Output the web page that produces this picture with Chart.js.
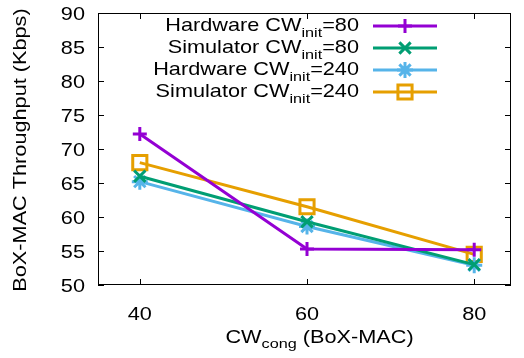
<!DOCTYPE html>
<html>
<head>
<meta charset="utf-8">
<script src="https://cdn.jsdelivr.net/npm/chart.js@4.4.1/dist/chart.umd.min.js"></script>
<style>
  html, body { margin: 0; padding: 0; background: #fff; }
  #wrap { width: 524px; height: 358px; }
</style>
</head>
<body>
<div id="wrap"><canvas id="chart" width="524" height="358"></canvas></div>
<script>
// data
const cwCong = [40, 60, 80];
const yTicks = [50, 55, 60, 65, 70, 75, 80, 85, 90];
const hw80 = [72.2, 55.3, 55.2];
const sim80 = [66.0, 59.3, 53.0];
const hw240 = [65.2, 58.6, 52.9];
const sim240 = [68.0, 61.5, 54.5];

const seriesNames = ['Hardware', 'Simulator', 'Hardware', 'Simulator'];
const seriesInit = ['80', '80', '240', '240'];

const FONT = '"Liberation Sans", Arial, sans-serif';
const STRETCH = 1.22;   // the original font is wider than Liberation Sans

function pts(vals) {
    return vals.map((v, i) => ({ x: cwCong[i], y: v }));
}

const styles = [
    { color: '#9400d3', point: 'cross', r: 7 },
    { color: '#009e73', point: 'crossRot', r: 8 },
    { color: '#56b4e9', point: 'star', r: 8 },
    { color: '#e69f00', point: 'rect', r: 10 }
];
const allValues = [hw80, sim80, hw240, sim240];

const datasets = allValues.map((vals, i) => ({
    label: seriesNames[i] + ' CWinit=' + seriesInit[i],
    data: pts(vals),
    borderColor: styles[i].color,
    backgroundColor: 'rgba(0,0,0,0)',
    borderWidth: 3,
    pointStyle: styles[i].point,
    pointRadius: styles[i].r,
    pointBorderWidth: 3,
    pointBorderColor: styles[i].color,
    pointBackgroundColor: 'rgba(0,0,0,0)',
    tension: 0
}));

// draw runs of [text, size, dy] starting at x, stretched horizontally
function runWidth(ctx, parts) {
    let w = 0;
    parts.forEach(p => { ctx.font = p[1] + 'px ' + FONT; w += ctx.measureText(p[0]).width * STRETCH; });
    return w;
}
function drawRuns(ctx, parts, x, y) {
    parts.forEach(p => {
        ctx.font = p[1] + 'px ' + FONT;
        ctx.save();
        ctx.translate(x, y + p[2]);
        ctx.scale(STRETCH, 1);
        ctx.textAlign = 'left';
        ctx.textBaseline = 'alphabetic';
        ctx.fillText(p[0], 0, 0);
        ctx.restore();
        x += ctx.measureText(p[0]).width * STRETCH;
    });
}

// gnuplot-like frame, inward ticks, labels, legend and titles with subscripts
const frame = {
    id: 'frame',
    afterDraw(chart) {
        const ctx = chart.ctx;
        const a = chart.chartArea;
        const xs = chart.scales.x, ys = chart.scales.y;
        ctx.save();
        ctx.strokeStyle = '#000';
        ctx.lineWidth = 1;
        ctx.strokeRect(a.left + 0.5, a.top + 0.5, a.right - a.left - 1, a.bottom - a.top - 1);
        ctx.beginPath();
        cwCong.forEach(v => {
            const px = Math.round(xs.getPixelForValue(v)) + 0.5;
            ctx.moveTo(px, a.bottom); ctx.lineTo(px, a.bottom - 6);
            ctx.moveTo(px, a.top); ctx.lineTo(px, a.top + 6);
        });
        yTicks.forEach(v => {
            const py = Math.round(ys.getPixelForValue(v)) + 0.5;
            ctx.moveTo(a.left, py); ctx.lineTo(a.left + 6, py);
            ctx.moveTo(a.right, py); ctx.lineTo(a.right - 6, py);
        });
        ctx.stroke();

        ctx.fillStyle = '#000';
        // tick labels
        cwCong.forEach(v => {
            const parts = [[String(v), 17.8, 0]];
            const w = runWidth(ctx, parts);
            drawRuns(ctx, parts, xs.getPixelForValue(v) - w / 2, 320);
        });
        yTicks.forEach(v => {
            const parts = [[String(v), 17.8, 0]];
            const w = runWidth(ctx, parts);
            drawRuns(ctx, parts, 85 - w, ys.getPixelForValue(v) + 7);
        });

        // legend
        datasets.forEach((ds, i) => {
            const cy = 26 + i * 22;
            const parts = [[seriesNames[i] + ' CW', 17.8, 0], ['init', 13.3, 6], ['=' + seriesInit[i], 17.8, 0]];
            const w = runWidth(ctx, parts);
            ctx.fillStyle = '#000';
            drawRuns(ctx, parts, 359 - w, cy + 5);
            ctx.strokeStyle = ds.borderColor;
            ctx.lineWidth = 3;
            ctx.beginPath(); ctx.moveTo(373, cy); ctx.lineTo(437, cy); ctx.stroke();
            ctx.fillStyle = 'rgba(0,0,0,0)';
            Chart.helpers.drawPoint(ctx, {
                pointStyle: ds.pointStyle, radius: ds.pointRadius, rotation: 0, borderWidth: 3
            }, 405, cy);
        });

        // y title
        ctx.fillStyle = '#000';
        ctx.save();
        ctx.translate(25.5, 150);
        ctx.rotate(-Math.PI / 2);
        const yt = [['BoX-MAC Throughput (Kbps)', 17.8, 0]];
        drawRuns(ctx, yt, -runWidth(ctx, yt) / 2, 0);
        ctx.restore();

        // x title
        const xt = [['CW', 17.8, 0], ['cong', 13.3, 5], [' (BoX-MAC)', 17.8, 0]];
        drawRuns(ctx, xt, 319.5 - runWidth(ctx, xt) / 2, 343);
        ctx.restore();
    }
};

new Chart(document.getElementById('chart'), {
    type: 'line',
    data: { datasets: datasets },
    options: {
        responsive: false,
        animation: false,
        layout: { padding: { top: 11, right: 4, left: 0, bottom: 0 } },
        plugins: { legend: { display: false }, tooltip: { enabled: false } },
        scales: {
            x: {
                type: 'linear',
                min: 35,
                max: 84.4,
                afterBuildTicks: s => { s.ticks = cwCong.map(v => ({ value: v })); },
                afterFit: s => { s.height = 73; },
                grid: { display: false, drawTicks: false },
                border: { display: false },
                ticks: { display: false }
            },
            y: {
                min: 50,
                max: 90,
                afterBuildTicks: s => { s.ticks = yTicks.map(v => ({ value: v })); },
                afterFit: s => { s.width = 98; },
                grid: { display: false, drawTicks: false },
                border: { display: false },
                ticks: { display: false }
            }
        }
    },
    plugins: [frame]
});
</script>
</body>
</html>
